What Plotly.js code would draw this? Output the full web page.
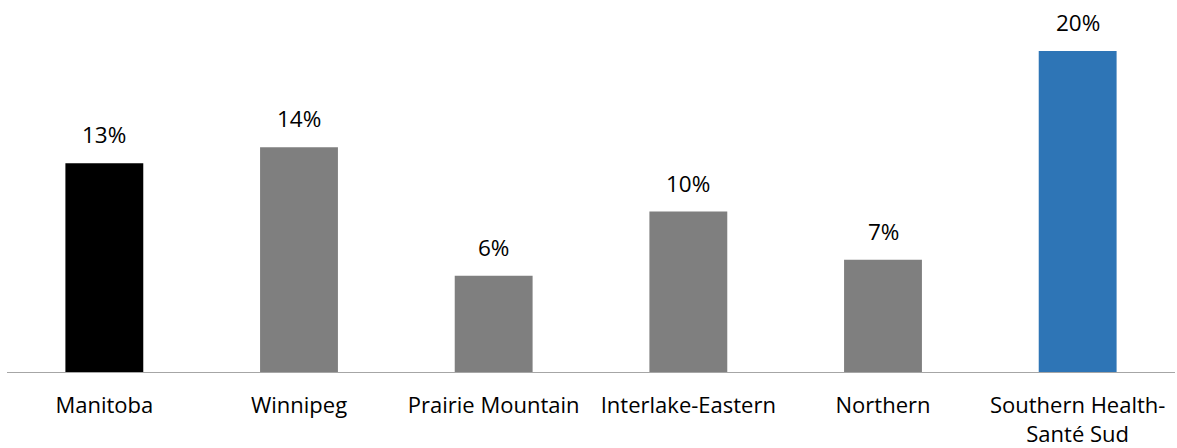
<!DOCTYPE html>
<html>
<head>
<meta charset="utf-8">
<script src="https://cdn.plot.ly/plotly-3.0.1.min.js"></script>
<style>html,body{margin:0;padding:0;background:#fff;}#chart{width:1177px;height:448px;}</style>
</head>
<body>
<div id="chart"></div>
<script>
var categories = ["Manitoba", "Winnipeg", "Prairie Mountain", "Interlake-Eastern", "Northern", "Southern Health-<br>Santé Sud"];
var values = [13, 14, 6, 10, 7, 20];
var barColors = ["#000000", "#7f7f7f", "#7f7f7f", "#7f7f7f", "#7f7f7f", "#2e75b6"];
var labels = values.map(function(v){ return v + "%"; });

var FONT = "Open Sans, sans-serif";

var trace = {
  type: "bar",
  x: categories,
  y: values,
  marker: {color: barColors, line: {width: 0}},
  hoverinfo: "none"
};

var annotations = categories.map(function(c, i){
  return {
    x: c, y: values[i], xref: "x", yref: "y",
    text: labels[i], showarrow: false,
    yanchor: "bottom", yshift: 11,
    font: {family: FONT, size: 22.5, color: "#000"}
  };
});

var layout = {
  width: 1177, height: 448,
  margin: {l: 7, r: 2, t: 0, b: 76},
  paper_bgcolor: "#fff", plot_bgcolor: "#fff",
  bargap: 0.6,
  showlegend: false,
  xaxis: {
    showline: true, linecolor: "#a6a6a6", linewidth: 1,
    ticks: "", showgrid: false, zeroline: false,
    ticklabelstandoff: 14,
    tickfont: {family: FONT, size: 22, color: "#000"},
    automargin: false
  },
  yaxis: {
    range: [0, 23.18], visible: false, showgrid: false, zeroline: false
  },
  annotations: annotations
};

Plotly.newPlot("chart", [trace], layout, {staticPlot: true, displayModeBar: false});
</script>
</body>
</html>
